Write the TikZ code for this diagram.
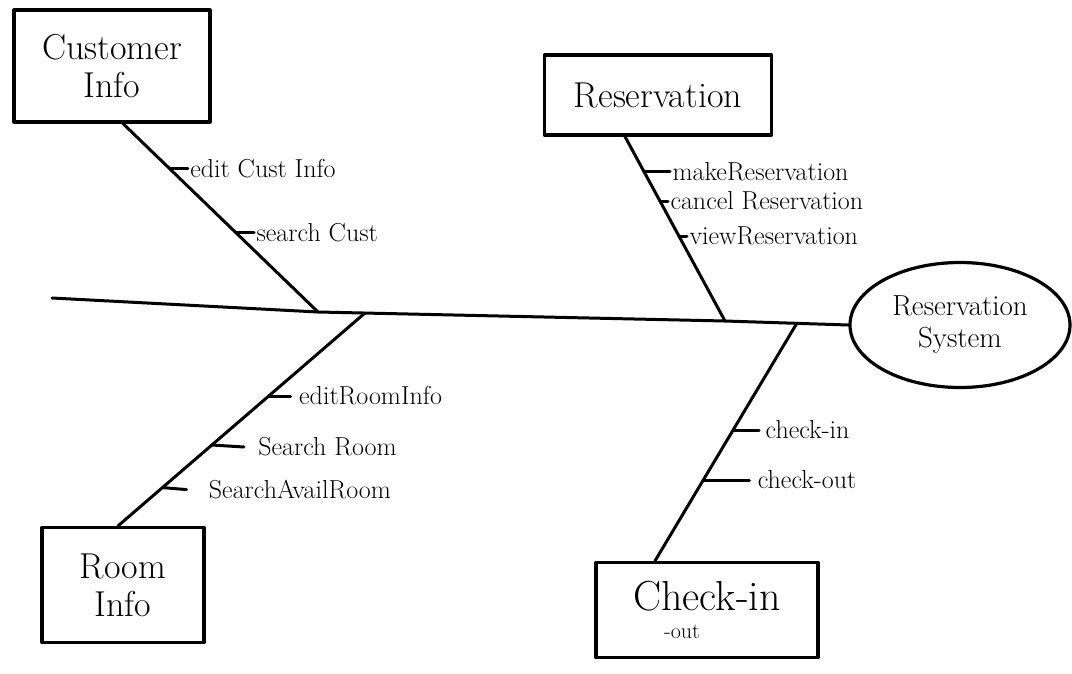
\documentclass[tikz,border=0pt]{standalone}
\usetikzlibrary{shapes.geometric,calc}
\begin{document}
\begin{tikzpicture}[x=1pt,y=-1pt,
  line width=3pt, line cap=round, line join=round,
  catbox/.style={draw, line width=3.2pt, inner sep=0pt, align=center, font=\fontsize{36}{38}\selectfont},
  effect/.style={draw, ellipse, line width=3.2pt, inner sep=0pt, minimum width=220pt, minimum height=125pt, align=center, font=\fontsize{29}{32}\selectfont},
  lbl/.style={inner sep=1pt, anchor=west, font=\fontsize{26}{28}\selectfont}]
\useasboundingbox[fill=white] (0,0) rectangle (1072,673);

% category boxes and effect
\node[catbox, minimum width=196pt, minimum height=112pt] (cust) at (112,66) {Customer\\Info};
\node[catbox, minimum width=227pt, minimum height=80pt] (res) at (658,95) {Reservation};
\node[catbox, minimum width=162pt, minimum height=115pt] (room) at (123,585) {Room\\Info};
\node[catbox, minimum width=222pt, minimum height=95pt] (chk) at (707,610) {{\fontsize{42}{44}\selectfont Check-in}\\[-10pt]{\fontsize{22}{24}\selectfont -out\hspace*{50pt}}};
\node[effect] (sys) at (960,325) {Reservation\\System};

% spine
\coordinate (sL) at (52,298);
\coordinate (j1) at (318,312);
\coordinate (j2) at (365,313);
\coordinate (j3) at (725,321);
\coordinate (j4) at (797,323);
\draw (sL) -- (j1) -- (j3) -- (sys.west);

% bones
\draw ([xshift=11pt]cust.south) -- (j1) coordinate[pos=0.24] (t1) coordinate[pos=0.58] (t2);
\draw ([xshift=-33pt]res.south) -- (j3) coordinate[pos=0.19] (t3) coordinate[pos=0.35] (t4) coordinate[pos=0.54] (t5);
\draw (j2) -- ([xshift=-5pt]room.north) coordinate[pos=0.39] (t6) coordinate[pos=0.62] (t7) coordinate[pos=0.82] (t8);
\draw (j4) -- ([xshift=-52pt]chk.north) coordinate[pos=0.45] (t9) coordinate[pos=0.66] (t10);

% sub-causes
\node[lbl] (l1) at ($(t1)+(18,0)$) {edit Cust Info};
\draw (t1) -- (l1.west);
\node[lbl] (l2) at ($(t2)+(18,0)$) {search Cust};
\draw (t2) -- (l2.west);
\node[lbl] (l3) at ($(t3)+(26,0)$) {makeReservation};
\draw (t3) -- (l3.west);
\node[lbl] (l4) at ($(t4)+(8,0)$) {cancel Reservation};
\draw (t4) -- (l4.west);
\node[lbl] (l5) at ($(t5)+(8,0)$) {viewReservation};
\draw (t5) -- (l5.west);
\node[lbl] (l6) at ($(t6)+(28,0)$) {editRoomInfo};
\draw (t6) -- ([xshift=-6pt]l6.west);
\node[lbl] (l7) at ($(t7)+(44,2)$) {Search Room};
\draw (t7) -- ([xshift=-12pt]l7.west);
\node[lbl] (l8) at ($(t8)+(44,2)$) {SearchAvailRoom};
\draw (t8) -- ([xshift=-20pt]l8.west);
\node[lbl] (l9) at ($(t9)+(30,0)$) {check-in};
\draw (t9) -- ([xshift=-4pt]l9.west);
\node[lbl] (l10) at ($(t10)+(52,0)$) {check-out};
\draw (t10) -- ([xshift=-6pt]l10.west);
\end{tikzpicture}
\end{document}
